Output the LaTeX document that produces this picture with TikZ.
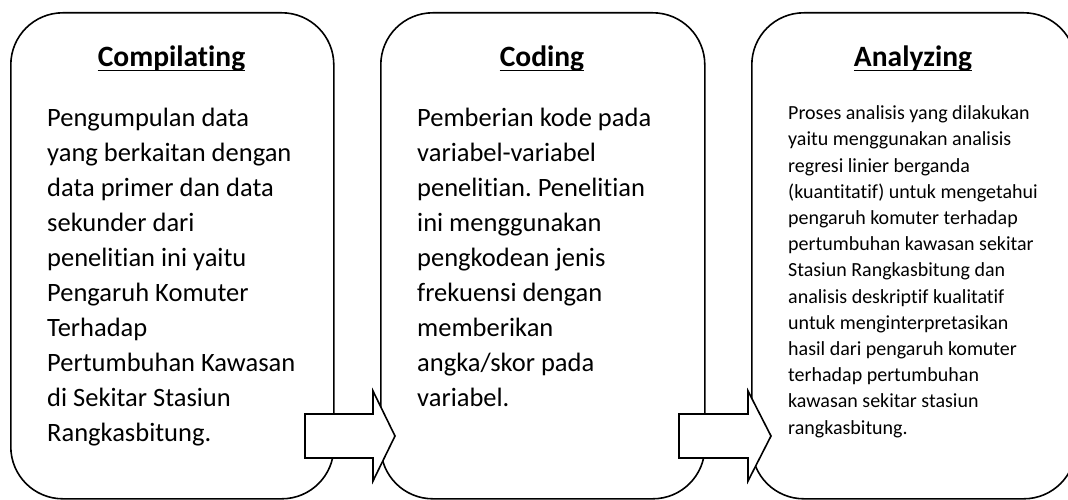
\documentclass[tikz,border=0pt]{standalone}
\usepackage{fontspec}
\setmainfont{Carlito}[Ligatures=NoCommon]
\frenchspacing
\begin{document}
\begin{tikzpicture}[x=1pt,y=-1pt,
  panel/.style={draw, line width=1.6pt, rounded corners=52pt, anchor=north west, inner sep=0pt},
  heading/.style={font=\fontsize{29.5}{35}\selectfont\bfseries, inner sep=0pt, anchor=base},
  bodytext/.style={font=\fontsize{26.5}{35}\selectfont, align=left, inner sep=0pt, anchor=base west},
  smalltext/.style={font=\fontsize{20}{26.2}\selectfont, align=left, inner sep=0pt, anchor=base west},
  blockarrow/.style={draw, fill=white, line width=1.6pt, line join=miter},
  headrule/.style={line width=1.8pt}
]
\useasboundingbox (0,0) rectangle (1068,500);
\clip (0,0) rectangle (1068,500);

% three process panels
\node[panel, minimum width=323pt, minimum height=486pt] (boxA) at (10,12) {};
\node[panel, minimum width=324pt, minimum height=486pt] (boxB) at (380,12) {};
\node[panel, minimum width=324pt, minimum height=486pt] (boxC) at (751,12) {};

% block arrows between the panels
\coordinate (arrA) at (305,436);
\coordinate (arrB) at (679,436);
\draw[blockarrow, shift={(arrA)}] (0,-22) -- (68,-22) -- (68,-45) -- (90,0)
  -- (68,45) -- (68,22) -- (0,22) -- cycle;
\draw[blockarrow, shift={(arrB)}] (0,-22) -- (69,-22) -- (69,-45) -- (92,0)
  -- (69,45) -- (69,22) -- (0,22) -- cycle;

% headings
\node[heading] (titleA) at (171.5,67) {Compilating};
\node[heading] (titleB) at (542,67) {Coding};
\node[heading] (titleC) at (913,67) {Analyzing};
\foreach \t in {titleA,titleB,titleC}
  \draw[headrule] ([yshift=-3.5pt]\t.base west) -- ([yshift=-3.5pt]\t.base east);

% descriptions (anchored at the baseline of their last line)
\node[bodytext] (textA) at (47,441) {Pengumpulan data\\
yang berkaitan dengan\\
data primer dan data\\
sekunder dari\\
penelitian ini yaitu\\
Pengaruh Komuter\\
Terhadap\\
Pertumbuhan Kawasan\\
di Sekitar Stasiun\\
Rangkasbitung.};

\node[bodytext] (textB) at (417,406) {Pemberian kode pada\\
variabel-variabel\\
penelitian. Penelitian\\
ini menggunakan\\
pengkodean jenis\\
frekuensi dengan\\
memberikan\\
angka/skor pada\\
variabel.};

\node[smalltext] (textC) at (788,434) {Proses analisis yang dilakukan\\
yaitu menggunakan analisis\\
regresi linier berganda\\
(kuantitatif) untuk mengetahui\\
pengaruh komuter terhadap\\
pertumbuhan kawasan sekitar\\
Stasiun Rangkasbitung dan\\
analisis deskriptif kualitatif\\
untuk menginterpretasikan\\
hasil dari pengaruh komuter\\
terhadap pertumbuhan\\
kawasan sekitar stasiun\\
rangkasbitung.};
\end{tikzpicture}
\end{document}
